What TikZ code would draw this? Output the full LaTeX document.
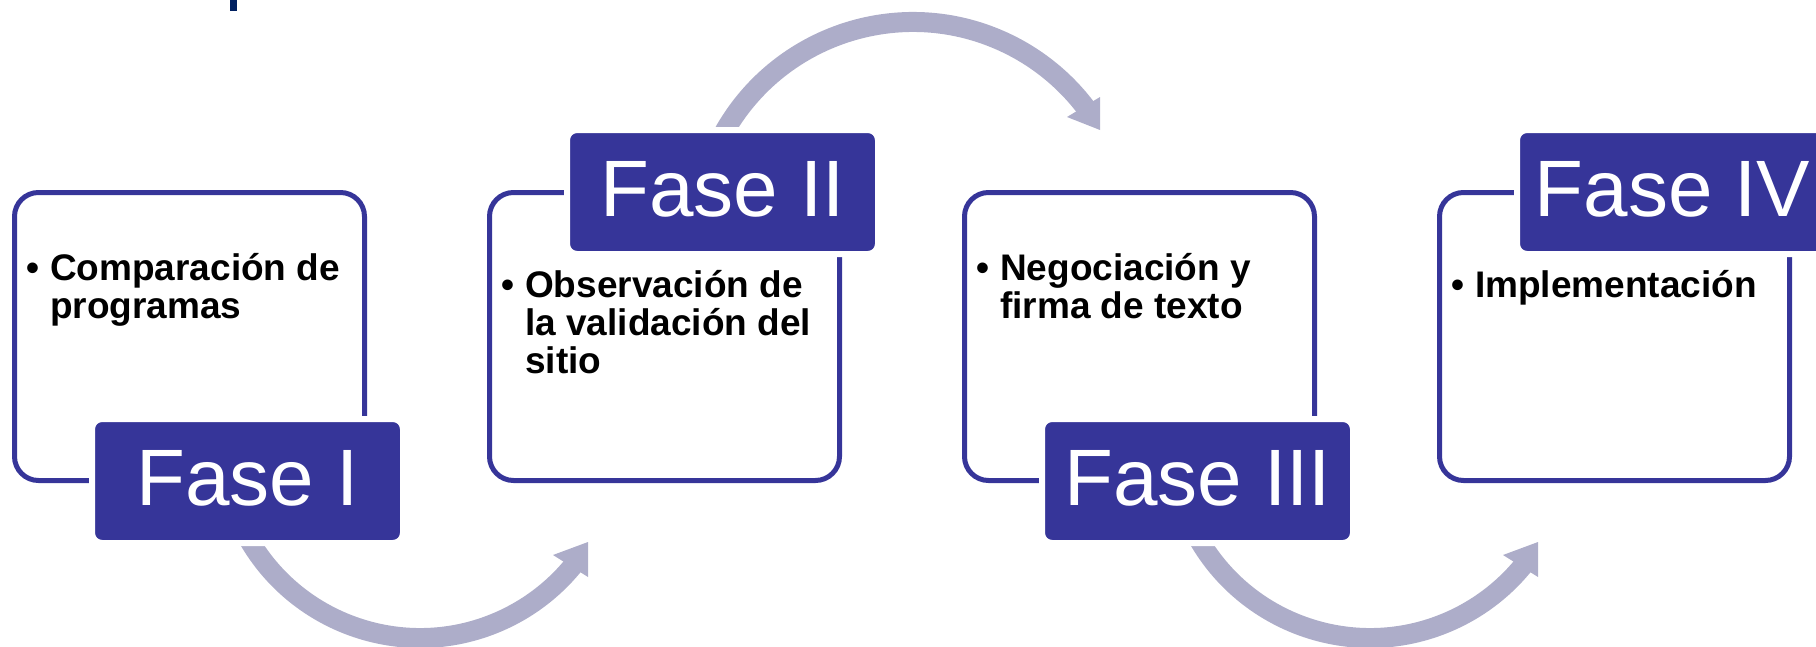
\documentclass[tikz,border=0pt]{standalone}
\usepackage{fontspec}
\setmainfont{Liberation Sans}
\definecolor{faseblue}{RGB}{54,53,153}
\definecolor{flechagris}{RGB}{173,173,201}
\definecolor{marca}{RGB}{0,32,96}

\begin{document}
\begin{tikzpicture}[x=1pt,y=-1pt,
  caja/.style={draw=faseblue,line width=5pt,rounded corners=24pt,
    minimum width=350pt,minimum height=288pt,inner sep=0pt},
  fase/.style={fill=faseblue,draw=white,line width=6pt,rounded corners=10pt,
    minimum width=311pt,minimum height=124pt,inner sep=0pt,text=white,
    font=\fontsize{80}{80}\selectfont,text height=57pt,text depth=8pt},
  punto/.style={anchor=base west,inner sep=0pt,
    font=\fontsize{37}{38}\selectfont\bfseries},
  flecha/.style={draw=flechagris,line width=20pt}]
  \useasboundingbox (0,0) rectangle (1816,646);
  \clip (0,0) rectangle (1816,646);
  \fill[marca] (230,0) rectangle (237,11);
  % flechas
  \foreach \cx in {420,1370} {
    \draw[flecha] (\cx,440) ++(155:198) arc[start angle=155,end angle=38,radius=198];
    \fill[flechagris] (\cx,440) ++(168,102) -- ++(-35,13) -- ++(35,22) -- cycle;
  }
  \draw[flecha] (913,239) ++(206:217) arc[start angle=206,end angle=324,radius=217];
  \fill[flechagris] (913,239) ++(187,-109) -- ++(-33,-13) -- ++(33,-20) -- cycle;
  % cajas
  \node[caja] (c1) at (189.5,336.5) {};
  \node[caja] (c2) at (664.5,336.5) {};
  \node[caja] (c3) at (1139.5,336.5) {};
  \node[caja] (c4) at (1614.5,336.5) {};
  \node[fase] (f1) at (247.5,481) {Fase I};
  \node[fase] (f2) at (722.5,192) {Fase II};
  \node[fase] (f3) at (1197.5,481) {Fase III};
  \node[fase] (f4) at (1672.5,192) {Fase IV};
  % textos
  \node[punto] (t1) at (26,280) {\makebox[24pt][l]{•}\parbox[t]{300pt}{Comparación de\\programas}};
  \node[punto] (t2) at (501,297) {\makebox[24pt][l]{•}\parbox[t]{300pt}{Observación de\\la validación del\\sitio}};
  \node[punto] (t3) at (976,280) {\makebox[24pt][l]{•}\parbox[t]{300pt}{Negociación y\\firma de texto}};
  \node[punto] (t4) at (1451,297) {\makebox[24pt][l]{•}\parbox[t]{300pt}{Implementación}};
\end{tikzpicture}
\end{document}
